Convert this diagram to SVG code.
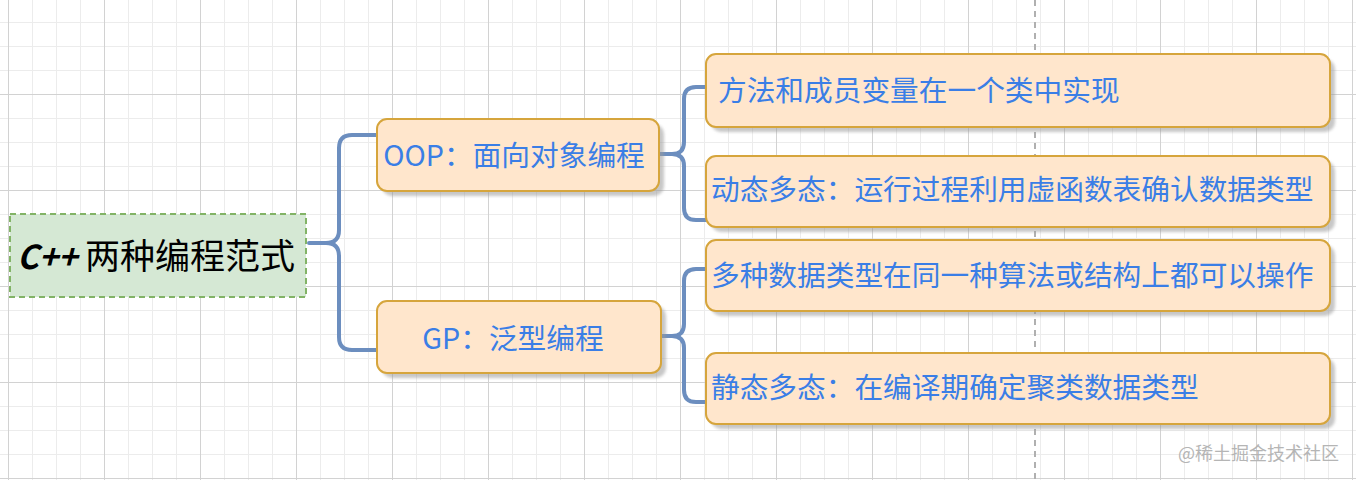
<svg xmlns="http://www.w3.org/2000/svg" width="1356" height="480" viewBox="0 0 1356 480">
  <defs>
    <pattern id="minor" patternUnits="userSpaceOnUse" x="8" y="-2" width="24" height="24">
      <path d="M0 0.5 H24 M0.5 0 V24" stroke="#ececec" stroke-width="1" fill="none"/>
    </pattern>
    <pattern id="major" patternUnits="userSpaceOnUse" x="8" y="-2" width="96" height="96">
      <path d="M0 0.5 H96 M0.5 0 V96" stroke="#d2d2d2" stroke-width="1" fill="none"/>
    </pattern>
    <filter id="blur" x="-10%" y="-10%" width="120%" height="130%">
      <feGaussianBlur stdDeviation="1.5"/>
    </filter>
  </defs>
  <style>
    .box { fill: #ffe6cc; stroke: #d6a53c; stroke-width: 2; }
    .shadow { fill: #9a9a9a; opacity: 0.55; filter: url(#blur); }
    .lbl { font-family: "Noto Sans CJK SC", "Liberation Sans", sans-serif; font-size: 28.7px; fill: #3a7ee6; }
    .conn { fill: none; stroke: #6c8ebf; stroke-width: 4; stroke-linecap: round; }
  </style>
  <rect width="1356" height="480" fill="#ffffff"/>
  <rect width="1356" height="480" fill="url(#minor)"/>
  <rect width="1356" height="480" fill="url(#major)"/>
  <line x1="1035" y1="0" x2="1035" y2="480" stroke="#b0b0b0" stroke-width="2" stroke-dasharray="6 5"/>

  <g id="connectors">
    <path class="conn" d="M309 243 H326 Q339 243 339 230 V148 Q339 135 352 135 H377"/>
    <path class="conn" d="M326 243 Q339 243 339 256 V337 Q339 350 352 350 H377"/>
    <path class="conn" d="M659 154 H672 Q684 154 684 142 V99 Q684 87 696 87 H706"/>
    <path class="conn" d="M672 154 Q684 154 684 166 V208 Q684 220 696 220 H706"/>
    <path class="conn" d="M661 336 H672 Q684 336 684 324 V281 Q684 269 696 269 H706"/>
    <path class="conn" d="M672 336 Q684 336 684 348 V390 Q684 402 696 402 H706"/>
  </g>

  <g id="root">
    <rect x="10" y="214" width="296" height="83" fill="#d5e8d4" stroke="#82b366" stroke-width="2" stroke-dasharray="6 4"/>
    <text x="17" y="269" font-family="Noto Sans CJK SC, Liberation Sans, sans-serif" font-size="35" fill="#000000"><tspan font-style="italic" font-weight="bold" font-size="33">C++</tspan> <tspan x="85">两种编程范式</tspan></text>
  </g>

  <g id="oop">
    <rect class="shadow" x="382" y="124" width="282" height="72" rx="10"/>
    <rect class="box" x="377" y="119" width="282" height="72" rx="10"/>
    <text class="lbl" x="514" y="166" text-anchor="middle">OOP：面向对象编程</text>
  </g>

  <g id="gp">
    <rect class="shadow" x="382" y="306" width="284" height="72" rx="10"/>
    <rect class="box" x="377" y="301" width="284" height="72" rx="10"/>
    <text class="lbl" x="513" y="349" text-anchor="middle">GP：泛型编程</text>
  </g>

  <g id="leaf1">
    <rect class="shadow" x="711" y="59" width="624" height="73" rx="10"/>
    <rect class="box" x="706" y="54" width="624" height="73" rx="10"/>
    <text class="lbl" x="718" y="101">方法和成员变量在一个类中实现</text>
  </g>

  <g id="leaf2">
    <rect class="shadow" x="711" y="161" width="624" height="71" rx="10"/>
    <rect class="box" x="706" y="156" width="624" height="71" rx="10"/>
    <text class="lbl" x="711" y="200">动态多态：运行过程利用虚函数表确认数据类型</text>
  </g>

  <g id="leaf3">
    <rect class="shadow" x="711" y="245" width="624" height="71" rx="10"/>
    <rect class="box" x="706" y="240" width="624" height="71" rx="10"/>
    <text class="lbl" x="711" y="286">多种数据类型在同一种算法或结构上都可以操作</text>
  </g>

  <g id="leaf4">
    <rect class="shadow" x="711" y="358" width="624" height="71" rx="10"/>
    <rect class="box" x="706" y="353" width="624" height="71" rx="10"/>
    <text class="lbl" x="711" y="398">静态多态：在编译期确定聚类数据类型</text>
  </g>

  <text x="1339" y="460" text-anchor="end" font-family="Noto Sans CJK SC, sans-serif" font-size="18" fill="#b5b5b5">@稀土掘金技术社区</text>
</svg>
